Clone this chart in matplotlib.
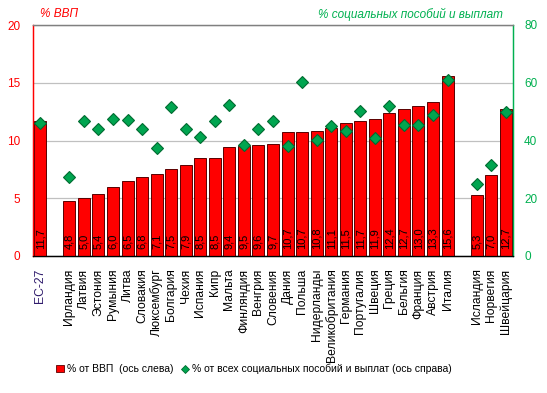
import matplotlib
matplotlib.use("Agg")
import matplotlib.pyplot as plt
from matplotlib.lines import Line2D
from matplotlib.patches import Patch
import numpy as np

plt.rcParams['font.family'] = ['Liberation Sans', 'DejaVu Sans']

categories = ["ЕС-27", "Ирландия", "Латвия", "Эстония", "Румыния", "Литва", "Словакия",
              "Люксембург", "Болгария", "Чехия", "Испания", "Кипр", "Мальта", "Финляндия",
              "Венгрия", "Словения", "Дания", "Польша", "Нидерланды", "Великобритания",
              "Германия", "Португалия", "Швеция", "Греция", "Бельгия", "Франция", "Австрия",
              "Италия", "Исландия", "Норвегия", "Швейцария"]
gdp_share = [11.7, 4.8, 5.0, 5.4, 6.0, 6.5, 6.8, 7.1, 7.5, 7.9, 8.5, 8.5, 9.4, 9.5, 9.6, 9.7,
             10.7, 10.7, 10.8, 11.1, 11.5, 11.7, 11.9, 12.4, 12.7, 13.0, 13.3, 15.6,
             5.3, 7.0, 12.7]
benefit_share = [46.2, 27.3, 46.9, 43.9, 47.5, 47.1, 43.9, 37.3, 51.5, 44.0, 41.3, 46.8, 52.4,
                 38.4, 44.0, 46.8, 38.1, 60.1, 40.3, 44.9, 43.2, 50.1, 41.0, 52.1, 45.3, 45.3,
                 49.0, 61.0, 25.1, 31.6, 50.0]
# group sizes: EU-27, EU members, non-EU
groups = [1, 27, 3]

# slot positions with one empty slot between groups
pos = []
p = 0
for gi, g in enumerate(groups):
    for _ in range(g):
        pos.append(p)
        p += 1
    p += 1
pos = np.array(pos)

fig = plt.figure(figsize=(5.47, 3.93), dpi=100)
ax = fig.add_axes([33/547, (393-256)/393, (513-33)/547, (256-25)/393])
ax2 = ax.twinx()

RED = '#FF0000'
GREEN = '#00A550'
DKGREEN = '#006B30'
TXTGREEN = '#00B050'

ax.set_zorder(1)
ax2.set_zorder(2)
ax.patch.set_visible(True)
ax2.patch.set_visible(False)

ax.bar(pos, gdp_share, width=0.82, color=RED, edgecolor='#5A0000', linewidth=0.7, zorder=3)
for x, v in zip(pos, gdp_share):
    ax.text(x, 0.6, f"{v:.1f}".replace('.', ','), rotation=90, ha='center', va='bottom',
            fontsize=8, color='black', zorder=4)

ax2.plot(pos, benefit_share, linestyle='none', marker='D', markersize=6.3,
         markerfacecolor=GREEN, markeredgecolor=DKGREEN, markeredgewidth=0.8, zorder=5)

ax.set_xlim(-0.5, p - 1.5)
ax.set_ylim(0, 20)
ax2.set_ylim(0, 80)
ax.set_yticks([0, 5, 10, 15, 20])
ax2.set_yticks([0, 20, 40, 60, 80])
ax.yaxis.grid(True, color='#C0C0C0', linewidth=0.9, zorder=0)
ax.set_axisbelow(True)

ax.tick_params(axis='y', length=0, labelsize=8.5, labelcolor=RED, pad=9)
ax2.tick_params(axis='y', length=0, labelsize=8.5, labelcolor=TXTGREEN, pad=8)
ax.set_xticks(pos)
ax.set_xticklabels(categories, rotation=90, fontsize=8.7, va='top', ha='center')
ax.tick_params(axis='x', length=0, pad=9)
ax.get_xticklabels()[0].set_color('#2E1A6B')

for a in (ax, ax2):
    a.spines['top'].set_color('#808080')
    a.spines['left'].set_color(RED)
    a.spines['right'].set_color(TXTGREEN)
    a.spines['bottom'].set_color('black')
    for s in a.spines.values():
        s.set_linewidth(0.9)

fig.text(40/547, 1 - 14/393, "% ВВП", color=RED, fontsize=8.5, style='italic',
         ha='left', va='center')
fig.text(503/547, 1 - 14/393, "% социальных пособий и выплат", color=TXTGREEN,
         fontsize=8.5, style='italic', ha='right', va='center')

handles = [Patch(facecolor=RED, edgecolor='#5A0000', linewidth=0.6),
           Line2D([], [], linestyle='none', marker='D', markersize=4,
                  markerfacecolor=GREEN, markeredgecolor=DKGREEN, markeredgewidth=0.6)]
labels = ["% от ВВП  (ось слева)", "% от всех социальных пособий и выплат (ось справа)"]
fig.legend(handles, labels, loc='center', bbox_to_anchor=(254/547, 1 - 369/393), ncol=2,
           frameon=False, fontsize=7.5, handlelength=0.7, handleheight=0.7,
           handletextpad=0.3, columnspacing=0.8)

fig.savefig("out.png", dpi=100)
